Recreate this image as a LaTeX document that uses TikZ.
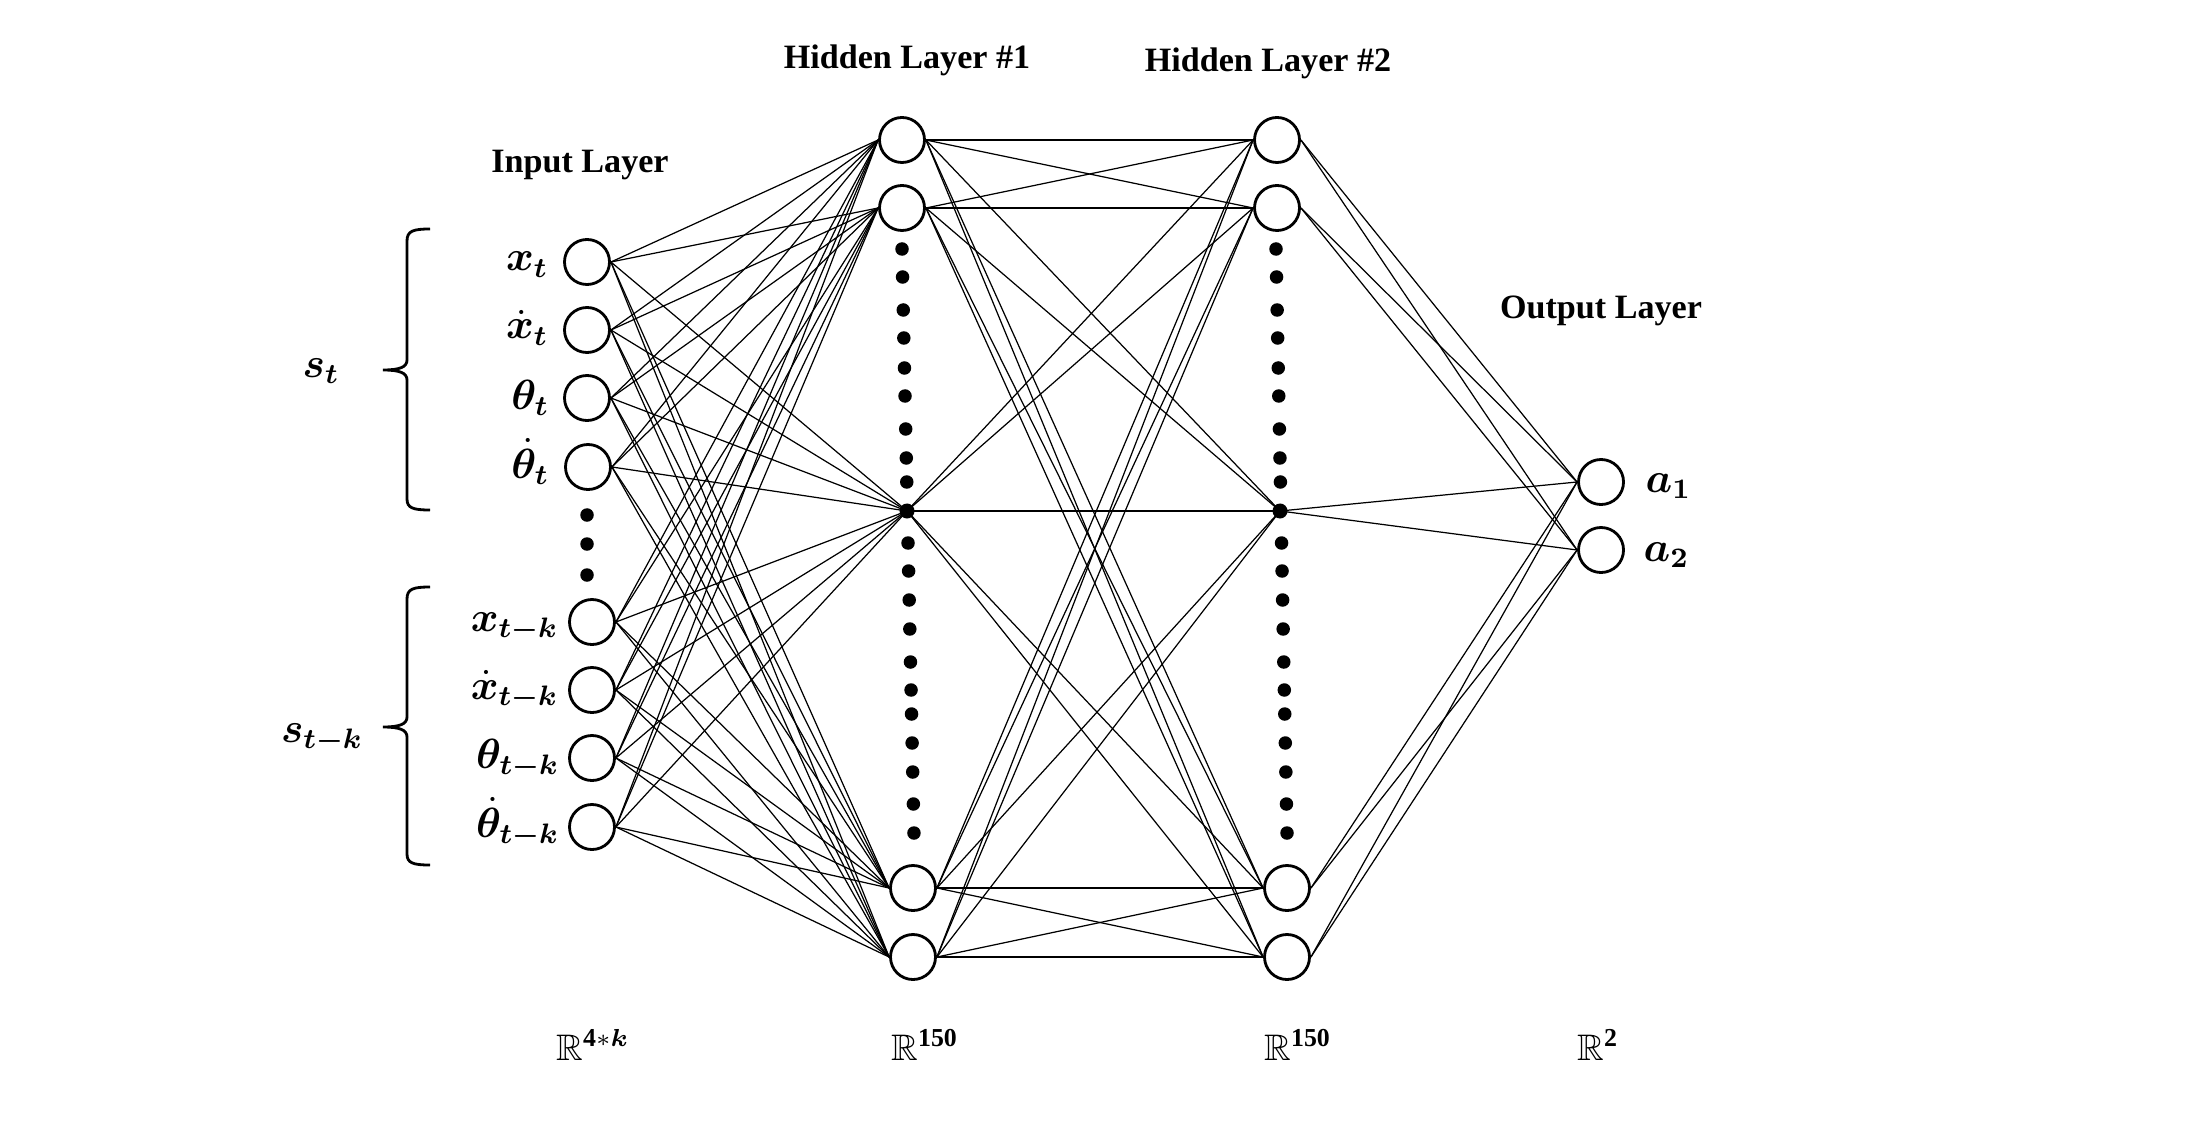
\documentclass[tikz,border=0pt]{standalone}
\usepackage{fontspec}
\setmainfont{Liberation Serif}
\usepackage{amsmath,amssymb,bm}
\begin{document}
\begin{tikzpicture}[x=0.01cm,y=-0.01cm,
  neuron/.style={circle,draw,line width=0.8pt,minimum size=0.45cm,inner sep=0pt,fill=white},
  hdot/.style={circle,fill,minimum size=0.135cm,inner sep=0pt},
  cdot/.style={circle,fill,minimum size=0.15cm,inner sep=0pt},
  conn/.style={line width=0.35pt},
  bracepath/.style={line width=0.8pt},
  head/.style={font=\fontsize{9.7}{11}\selectfont\bfseries,anchor=base,inner sep=0pt},
  mlab/.style={font=\fontsize{11.5}{13}\selectfont,anchor=base east,inner sep=0pt},
  olab/.style={font=\fontsize{11.5}{13}\selectfont,anchor=base west,inner sep=0pt},
  slab/.style={font=\fontsize{11.5}{13}\selectfont,anchor=base,inner sep=0pt},
  rlab/.style={font=\fontsize{10.5}{12}\selectfont,anchor=base,inner sep=0pt}]
\useasboundingbox (0,0) rectangle (2186,1146);

% input layer
\node[neuron] (i1) at (587,262) {};
\node[neuron] (i2) at (587,330) {};
\node[neuron] (i3) at (587,398) {};
\node[neuron] (i4) at (588,467) {};
\node[neuron] (i5) at (592,622) {};
\node[neuron] (i6) at (592,690) {};
\node[neuron] (i7) at (592,758) {};
\node[neuron] (i8) at (592,827) {};
\node[hdot] (id1) at (587,515) {};
\node[hdot] (id2) at (587,544) {};
\node[hdot] (id3) at (587,575) {};

% hidden layer 1
\node[neuron] (ha) at (902,140) {};
\node[neuron] (hb) at (902,208) {};
\node[cdot] (hc) at (907,511) {};
\node[neuron] (hd) at (913,888) {};
\node[neuron] (he) at (913,957) {};
% hidden layer 2
\node[neuron] (ga) at (1277,140) {};
\node[neuron] (gb) at (1277,208) {};
\node[cdot] (gc) at (1280,511) {};
\node[neuron] (gd) at (1287,888) {};
\node[neuron] (ge) at (1287,957) {};
% output
\node[neuron] (o1) at (1601,482) {};
\node[neuron] (o2) at (1601,550) {};

% dots in hidden layers
\foreach \yy [count=\k] in {249,277,310,338,368,396,429,458,482,543,571,600,629,662,690,714,743,772,804,833}{
  \node[hdot] (hdot\k) at ({902+0.0205*(\yy-249)},\yy) {};
  \node[hdot] (gdot\k) at ({1276+0.0188*(\yy-249)},\yy) {};
}

% connections input -> hidden 1
\foreach \s in {i1,i2,i3,i4,i5,i6,i7,i8}{
  \foreach \t in {ha,hb,hd,he}{\draw[conn] (\s.east) -- (\t.west);}
  \draw[conn] (\s.east) -- (hc.center);
}
% hidden 1 -> hidden 2
\foreach \s in {ha,hb,hd,he}{
  \foreach \t in {ga,gb,gd,ge}{\draw[conn] (\s.east) -- (\t.west);}
  \draw[conn] (\s.east) -- (gc.center);
}
\foreach \t in {ga,gb,gd,ge}{\draw[conn] (hc.center) -- (\t.west);}
\draw[conn] (hc.center) -- (gc.center);
% hidden 2 -> output
\foreach \s in {ga,gb,gd,ge}{
  \foreach \t in {o1,o2}{\draw[conn] (\s.east) -- (\t.west);}
}
\foreach \t in {o1,o2}{\draw[conn] (gc.center) -- (\t.west);}

% headings
\node[head] (hIn) at (580,173) {Input Layer};
\node[head] (hH1) at (907,69) {Hidden Layer \#1};
\node[head] (hH2) at (1268,72) {Hidden Layer \#2};
\node[head] (hOut) at (1601,319) {Output Layer};

% input labels
\node[mlab] (l1) at (549,271) {$\boldsymbol{x_t}$};
\node[mlab] (l2) at (549,339) {$\boldsymbol{\dot{x}_t}$};
\node[mlab] (l3) at (550,409) {$\boldsymbol{\theta_t}$};
\node[mlab] (l4) at (550,478) {$\boldsymbol{\dot{\theta}_t}$};
\node[mlab] (l5) at (559,631) {$\boldsymbol{x_{t-k}}$};
\node[mlab] (l6) at (559,699) {$\boldsymbol{\dot{x}_{t-k}}$};
\node[mlab] (l7) at (560,768) {$\boldsymbol{\theta_{t-k}}$};
\node[mlab] (l8) at (560,837) {$\boldsymbol{\dot{\theta}_{t-k}}$};

% output labels
\node[olab] (la1) at (1645,492) {$\boldsymbol{a_1}$};
\node[olab] (la2) at (1643,561) {$\boldsymbol{a_2}$};

% state labels
\node[slab] (st) at (321,377) {$\boldsymbol{s_t}$};
\node[slab] (stk) at (322,742) {$\boldsymbol{s_{t-k}}$};

% braces
\draw[bracepath] (430,229) .. controls (413,229) and (407,231) .. (407,241) -- (407,360)
  .. controls (407,367) and (400,370) .. (383,370)
  .. controls (400,370) and (407,373) .. (407,380) -- (407,499)
  .. controls (407,508) and (413,510) .. (430,510);
\draw[bracepath] (430,587) .. controls (413,587) and (407,589) .. (407,599) -- (407,717)
  .. controls (407,724) and (400,727) .. (383,727)
  .. controls (400,727) and (407,730) .. (407,737) -- (407,854)
  .. controls (407,863) and (413,865) .. (430,865);

% space labels
\node[rlab] (r1) at (593,1060) {$\mathbb{R}^{\mathbf{4*}\boldsymbol{k}}$};
\node[rlab] (r2) at (925,1060) {$\mathbb{R}^{\mathbf{150}}$};
\node[rlab] (r3) at (1298,1060) {$\mathbb{R}^{\mathbf{150}}$};
\node[rlab] (r4) at (1598,1060) {$\mathbb{R}^{\mathbf{2}}$};
\end{tikzpicture}
\end{document}
